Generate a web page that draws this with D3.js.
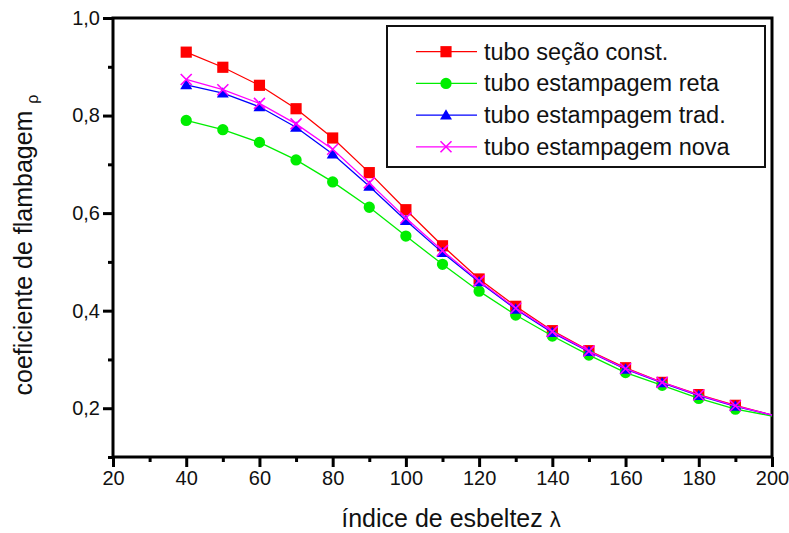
<!DOCTYPE html>
<html>
<head>
<meta charset="utf-8">
<script src="https://cdn.jsdelivr.net/npm/d3@7"></script>
<style>
    body { margin: 0; background: #fff; }
    .text { font-family: Arial, "Liberation Sans", sans-serif; fill: #111; }
</style>
</head>
<body>
<div id="chart"></div>
<script>
// slenderness index (last point has no marker)
const lambdaValues = [40, 50, 60, 70, 80, 90, 100, 110, 120, 130, 140, 150, 160, 170, 180, 190, 200];

const rhoConst = [0.930, 0.899, 0.862, 0.814, 0.754, 0.683, 0.607, 0.533, 0.465, 0.409, 0.359, 0.318, 0.283, 0.253, 0.228, 0.206, 0.186];
const rhoReta  = [0.790, 0.771, 0.745, 0.709, 0.664, 0.612, 0.553, 0.495, 0.440, 0.391, 0.348, 0.309, 0.273, 0.247, 0.220, 0.198, 0.184];
const rhoTrad  = [0.863, 0.846, 0.818, 0.776, 0.721, 0.655, 0.585, 0.519, 0.459, 0.403, 0.355, 0.316, 0.280, 0.252, 0.226, 0.204, 0.186];
const rhoNova  = [0.874, 0.853, 0.825, 0.783, 0.731, 0.662, 0.590, 0.523, 0.461, 0.405, 0.357, 0.317, 0.281, 0.253, 0.227, 0.205, 0.186];

const seriesNames = ["tubo seção const.", "tubo estampagem reta", "tubo estampagem trad.", "tubo estampagem nova"];
const seriesColors = ["#ff0000", "#00ee00", "#0000ff", "#ff00ff"];
const seriesSymbols = ["square", "circle", "triangle", "cross"];

const xTicksMajor = [20, 40, 60, 80, 100, 120, 140, 160, 180, 200];
const xTicksMinor = [30, 50, 70, 90, 110, 130, 150, 170, 190];
const yTicksMajor = [0.2, 0.4, 0.6, 0.8, 1.0];
const yTicksMinor = [0.1, 0.3, 0.5, 0.7, 0.9];

function drawChart(selector) {
    const dimensions = {
        width: 789,
        height: 533,
        margins: { top: 18, right: 17, bottom: 76, left: 113 }
    };
    dimensions.bordWidth = dimensions.width - dimensions.margins.left - dimensions.margins.right;
    dimensions.bordHeight = dimensions.height - dimensions.margins.top - dimensions.margins.bottom;

    const svg = d3.select(selector)
        .append("svg")
        .attr("width", dimensions.width)
        .attr("height", dimensions.height);

    const borders = svg.append("g")
        .attr("transform", `translate(${dimensions.margins.left}, ${dimensions.margins.top})`);

    // Scales
    const xScale = d3.scaleLinear().domain([20, 200]).range([0, dimensions.bordWidth]);
    const yScale = d3.scaleLinear().domain([0.1, 1.0]).range([dimensions.bordHeight, 0]);

    const fmt = d3.format(".1f");
    const comma = d => fmt(d).replace(".", ",");

    // X axis: major + minor ticks
    borders.append("g")
        .attr("transform", `translate(0, ${dimensions.bordHeight})`)
        .call(d3.axisBottom(xScale).tickValues(xTicksMajor).tickSize(10).tickPadding(4));
    borders.append("g")
        .attr("transform", `translate(0, ${dimensions.bordHeight})`)
        .call(d3.axisBottom(xScale).tickValues(xTicksMinor).tickSize(5).tickFormat(""));

    // Y axis
    borders.append("g")
        .call(d3.axisLeft(yScale).tickValues(yTicksMajor).tickSize(10).tickPadding(3).tickFormat(comma));
    borders.append("g")
        .call(d3.axisLeft(yScale).tickValues(yTicksMinor).tickSize(5).tickFormat(""));

    borders.selectAll(".tick line").attr("stroke", "#000").attr("stroke-width", 3);
    borders.selectAll(".domain").remove();
    borders.selectAll(".tick text")
        .attr("class", "text")
        .style("font-size", "20px");

    // Frame
    borders.append("rect")
        .attr("x", 0)
        .attr("y", 0)
        .attr("width", dimensions.bordWidth)
        .attr("height", dimensions.bordHeight)
        .attr("fill", "none")
        .attr("stroke", "#000")
        .attr("stroke-width", 3);

    // Series
    const allSeries = [rhoConst, rhoReta, rhoTrad, rhoNova];
    const line = d3.line()
        .x(d => xScale(d.x))
        .y(d => yScale(d.y));

    const symbolPath = type => {
        if (type === "square") return d3.symbol(d3.symbolSquare, 125)();
        if (type === "circle") return d3.symbol(d3.symbolCircle, 100)();
        if (type === "triangle") return d3.symbol(d3.symbolTriangle, 62)();
        return "M-5.5,-5.5L5.5,5.5M-5.5,5.5L5.5,-5.5";
    };

    const drawMarker = (g, type, color, x, y) => {
        const p = g.append("path")
            .attr("d", symbolPath(type))
            .attr("transform", `translate(${x}, ${y + (type === "triangle" ? 1 : 0)})`);
        if (type === "cross") {
            p.attr("fill", "none").attr("stroke", color).attr("stroke-width", 1.6);
        } else {
            p.attr("fill", color);
        }
    };

    allSeries.forEach((values, i) => {
        const pts = lambdaValues.map((x, j) => ({ x: x, y: values[j] }));
        const g = borders.append("g").attr("class", "series");
        g.append("path")
            .datum(pts)
            .attr("d", line)
            .attr("fill", "none")
            .attr("stroke", seriesColors[i])
            .attr("stroke-width", 1.3);
        pts.slice(0, -1).forEach(d => drawMarker(g, seriesSymbols[i], seriesColors[i], xScale(d.x), yScale(d.y)));
    });

    // Axis labels
    svg.append("text")
        .attr("class", "text")
        .attr("x", 451)
        .attr("y", 527)
        .attr("text-anchor", "middle")
        .style("font-size", "25px")
        .text("índice de esbeltez ")
        .append("tspan")
        .style("font-size", "22px")
        .text("λ");

    const yLabel = svg.append("text")
        .attr("class", "text")
        .attr("transform", "translate(32, 245) rotate(-90)")
        .attr("text-anchor", "middle")
        .style("font-size", "25px")
        .text("coeficiente de flambagem ");
    yLabel.append("tspan")
        .style("font-size", "16px")
        .attr("dy", 6)
        .text("ρ");

    // Legend
    const legend = svg.append("g").attr("class", "legend");
    legend.append("rect")
        .attr("x", 387)
        .attr("y", 26)
        .attr("width", 378)
        .attr("height", 141)
        .attr("fill", "#fff")
        .attr("stroke", "#111")
        .attr("stroke-width", 2);

    seriesNames.forEach((name, i) => {
        const ly = 51.7 + i * 31.7;
        legend.append("line")
            .attr("x1", 416).attr("x2", 477)
            .attr("y1", ly).attr("y2", ly)
            .attr("stroke", seriesColors[i])
            .attr("stroke-width", 1.3);
        drawMarker(legend, seriesSymbols[i], seriesColors[i], 446, ly);
        legend.append("text")
            .attr("class", "text")
            .attr("x", 484)
            .attr("y", ly + 8)
            .style("font-size", "23.5px")
            .text(name);
    });
}

drawChart("#chart");
</script>
</body>
</html>
